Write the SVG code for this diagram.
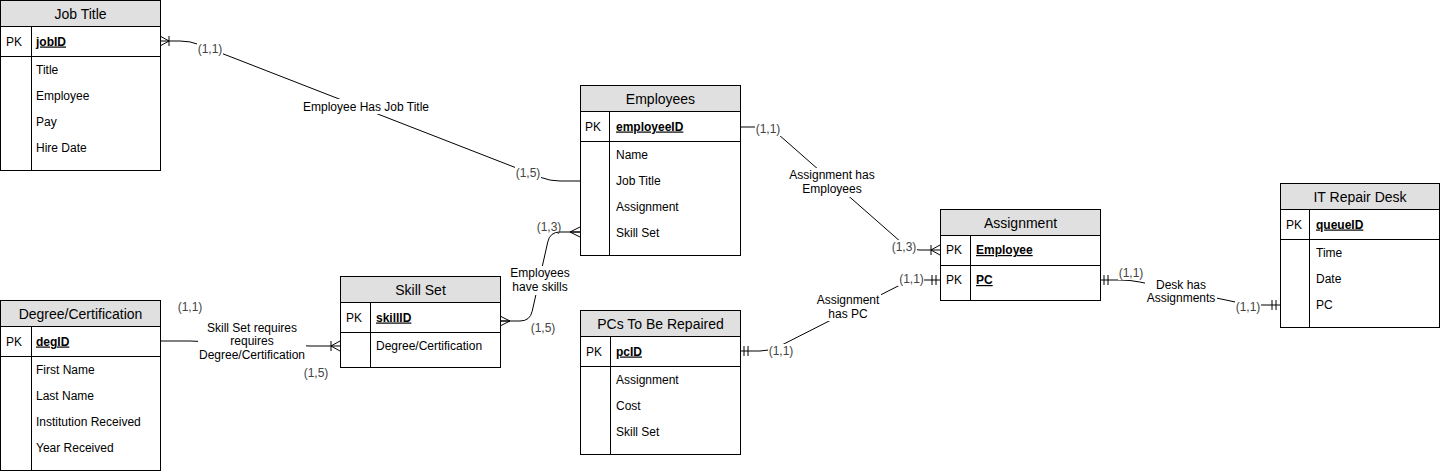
<svg xmlns="http://www.w3.org/2000/svg" width="1441" height="472" viewBox="0 0 1441 472">
<style>
text{font-family:"Liberation Sans",Arial,Helvetica,sans-serif;font-size:12px;fill:#000}
.hdr{font-size:14px;text-anchor:middle}
.pk{font-weight:bold;text-decoration:underline}
.mid{text-anchor:middle}
.card{text-anchor:middle;fill:#444}
.box{fill:#fff;stroke:#000;stroke-width:1}
.head{fill:#e0e0e0;stroke:#000;stroke-width:1}
.ln{stroke:#000;stroke-width:1;fill:none}
.edge{stroke:#000;stroke-width:1;fill:none}
.bg{fill:#fff;stroke:none}
</style>
<defs>
<marker id="many" markerUnits="userSpaceOnUse" markerWidth="24" markerHeight="24" refX="0" refY="0" orient="auto-start-reverse" overflow="visible" viewBox="-12 -12 24 24">
<path d="M0,-5 L-10,0 L0,5 M0,0 L-10,0" fill="none" stroke="#000" stroke-width="1"/>
</marker>
<marker id="oneMany" markerUnits="userSpaceOnUse" markerWidth="24" markerHeight="24" refX="0" refY="0" orient="auto-start-reverse" overflow="visible" viewBox="-12 -12 24 24">
<path d="M0,-5 L-9,0 L0,5 M-9,-5 L-9,5" fill="none" stroke="#000" stroke-width="1"/>
</marker>
<marker id="mandOne" markerUnits="userSpaceOnUse" markerWidth="24" markerHeight="24" refX="0" refY="0" orient="auto-start-reverse" overflow="visible" viewBox="-12 -12 24 24">
<path d="M-4,-5 L-4,5 M-8,-5 L-8,5" fill="none" stroke="#000" stroke-width="1"/>
</marker>
</defs>

<g id="connectors">
<path class="edge" d="M160,41 L180,41 Q190,41 199.3,44.6 L540.7,177.4 Q550,181 560,181 L580,181" marker-start="url(#oneMany)"/>
<path class="edge" d="M580,232 L560,232 Q550,232 547.8,241.8 L532.2,311.2 Q530,321 520,321 L500,321" marker-start="url(#many)" marker-end="url(#many)"/>
<path class="edge" d="M160,341 L190,341 L310,346 L340,346" marker-end="url(#oneMany)"/>
<path class="edge" d="M740,127 L760,127 Q770,127 777.5,133.6 L902.5,243.4 Q910,250 920,250 L940,250" marker-end="url(#oneMany)"/>
<path class="edge" d="M740,351 L760,351 Q770,351 778.9,346.5 L901.1,284.5 Q910,280 920,280 L940,280" marker-start="url(#mandOne)" marker-end="url(#mandOne)"/>
<path class="edge" d="M1100,280 L1120,280 Q1130,280 1139.8,282 L1240.2,303 Q1250,305 1260,305 L1280,305" marker-start="url(#mandOne)" marker-end="url(#mandOne)"/>

<rect class="bg" x="197" y="41" width="26" height="14"/>
<text class="card" x="210" y="52.5">(1,1)</text>
<rect class="bg" x="515" y="166" width="26" height="14"/>
<text class="card" x="528" y="177">(1,5)</text>
<rect class="bg" x="302" y="99" width="128" height="15"/>
<text class="mid" x="366" y="110.5">Employee Has Job Title</text>

<text class="card" x="549" y="230.5">(1,3)</text>
<text class="card" x="543" y="332">(1,5)</text>
<rect class="bg" x="509" y="266" width="62" height="29"/>
<text class="mid" x="540" y="277">Employees</text>
<text class="mid" x="540" y="291">have skills</text>

<text class="card" x="190" y="310.5">(1,1)</text>
<text class="card" x="316" y="376.5">(1,5)</text>
<rect class="bg" x="198" y="321" width="108" height="41"/>
<text class="mid" x="252" y="331.5">Skill Set requires</text>
<text class="mid" x="252" y="345">requires</text>
<text class="mid" x="252" y="358.5">Degree/Certification</text>

<rect class="bg" x="755" y="122" width="26" height="14"/>
<text class="card" x="768" y="133">(1,1)</text>
<rect class="bg" x="891" y="240" width="26" height="14"/>
<text class="card" x="904" y="251">(1,3)</text>
<rect class="bg" x="789" y="168" width="87" height="29"/>
<text class="mid" x="832" y="178.5">Assignment has</text>
<text class="mid" x="832" y="192.5">Employees</text>

<rect class="bg" x="768" y="344" width="26" height="14"/>
<text class="card" x="781" y="354.5">(1,1)</text>
<rect class="bg" x="898" y="272" width="26" height="14"/>
<text class="card" x="911.5" y="282.5">(1,1)</text>
<rect class="bg" x="815" y="292" width="66" height="29"/>
<text class="mid" x="848" y="303.5">Assignment</text>
<text class="mid" x="848" y="317.5">has PC</text>

<rect class="bg" x="1118" y="266" width="26" height="14"/>
<text class="card" x="1131" y="277">(1,1)</text>
<rect class="bg" x="1235" y="300" width="26" height="14"/>
<text class="card" x="1248" y="311">(1,1)</text>
<rect class="bg" x="1145" y="279" width="72" height="27"/>
<text class="mid" x="1181" y="289">Desk has</text>
<text class="mid" x="1181" y="301.5">Assignments</text>
</g>

<g id="job-title">
<rect class="box" x="0.5" y="0.5" width="160" height="170"/>
<rect class="head" x="0.5" y="0.5" width="160" height="26"/>
<path class="ln" d="M0.5,56.5 H160.5 M31.5,26.5 V170.5"/>
<text class="hdr" x="80.5" y="18.5">Job Title</text>
<text x="6" y="45.5">PK</text>
<text class="pk" x="36" y="45.5">jobID</text>
<text x="36" y="74">Title</text>
<text x="36" y="100">Employee</text>
<text x="36" y="126">Pay</text>
<text x="36" y="152">Hire Date</text>
</g>

<g id="employees">
<rect class="box" x="580.5" y="85.5" width="160" height="170"/>
<rect class="head" x="580.5" y="85.5" width="160" height="26"/>
<path class="ln" d="M580.5,141.5 H740.5 M609.5,111.5 V255.5"/>
<text class="hdr" x="660.5" y="103.5">Employees</text>
<text x="585" y="130.5">PK</text>
<text class="pk" x="616" y="130.5">employeeID</text>
<text x="616" y="159">Name</text>
<text x="616" y="185">Job Title</text>
<text x="616" y="211">Assignment</text>
<text x="616" y="237">Skill Set</text>
</g>

<g id="degree-certification">
<rect class="box" x="0.5" y="300.5" width="160" height="170"/>
<rect class="head" x="0.5" y="300.5" width="160" height="26"/>
<path class="ln" d="M0.5,356.5 H160.5 M31.5,326.5 V470.5"/>
<text class="hdr" x="80.5" y="318.5">Degree/Certification</text>
<text x="6" y="345.5">PK</text>
<text class="pk" x="36" y="345.5">degID</text>
<text x="36" y="374">First Name</text>
<text x="36" y="400">Last Name</text>
<text x="36" y="426">Institution Received</text>
<text x="36" y="452">Year Received</text>
</g>

<g id="skill-set">
<rect class="box" x="340.5" y="276.5" width="160" height="91"/>
<rect class="head" x="340.5" y="276.5" width="160" height="26"/>
<path class="ln" d="M340.5,332.5 H500.5 M370.5,302.5 V367.5"/>
<text class="hdr" x="420.5" y="294.5">Skill Set</text>
<text x="346" y="321.5">PK</text>
<text class="pk" x="376" y="321.5">skillID</text>
<text x="376" y="350">Degree/Certification</text>
</g>

<g id="pcs-to-be-repaired">
<rect class="box" x="580.5" y="310.5" width="160" height="144"/>
<rect class="head" x="580.5" y="310.5" width="160" height="26"/>
<path class="ln" d="M580.5,366.5 H740.5 M610.5,336.5 V454.5"/>
<text class="hdr" x="660.5" y="328.5">PCs To Be Repaired</text>
<text x="586" y="355.5">PK</text>
<text class="pk" x="616" y="355.5">pcID</text>
<text x="616" y="384">Assignment</text>
<text x="616" y="410">Cost</text>
<text x="616" y="436">Skill Set</text>
</g>

<g id="assignment">
<rect class="box" x="940.5" y="209.5" width="160" height="91"/>
<rect class="head" x="940.5" y="209.5" width="160" height="26"/>
<path class="ln" d="M940.5,265.5 H1100.5 M970.5,235.5 V300.5"/>
<text class="hdr" x="1020.5" y="227.5">Assignment</text>
<text x="946" y="254">PK</text>
<text class="pk" x="976" y="254">Employee</text>
<text x="946" y="284">PK</text>
<text class="pk" x="976" y="284">PC</text>
</g>

<g id="it-repair-desk">
<rect class="box" x="1280.5" y="183.5" width="159" height="144"/>
<rect class="head" x="1280.5" y="183.5" width="159" height="26"/>
<path class="ln" d="M1280.5,239.5 H1439.5 M1309.5,209.5 V327.5"/>
<text class="hdr" x="1360" y="201.5">IT Repair Desk</text>
<text x="1286" y="228.5">PK</text>
<text class="pk" x="1316" y="228.5">queueID</text>
<text x="1316" y="257">Time</text>
<text x="1316" y="283">Date</text>
<text x="1316" y="309">PC</text>
</g>
</svg>
